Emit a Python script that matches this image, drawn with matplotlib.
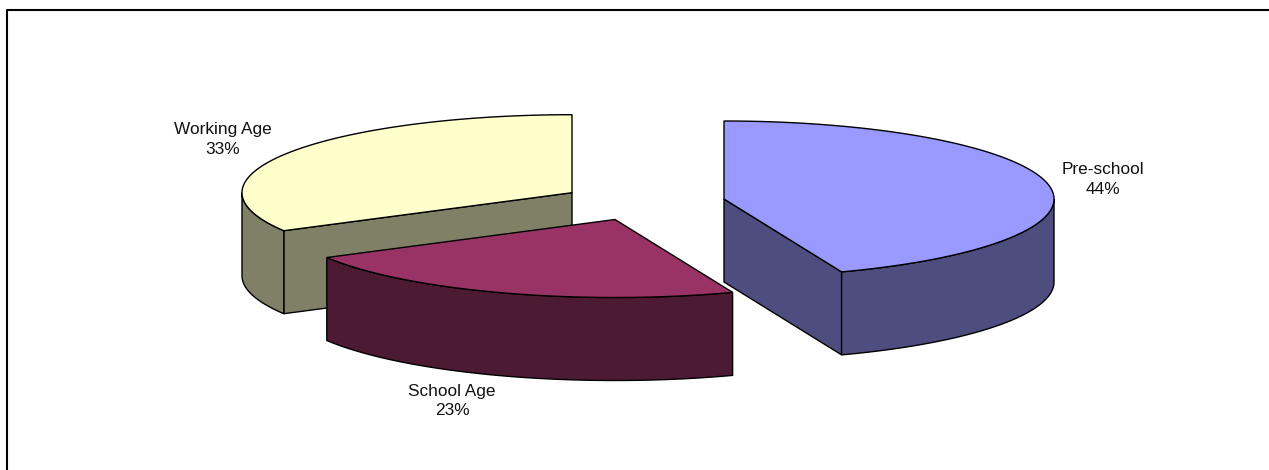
import numpy as np
import matplotlib
matplotlib.use("Agg")
import matplotlib.pyplot as plt
from matplotlib.patches import Polygon

labels = ["Pre-school", "School Age", "Working Age"]
shares = [44.2, 22.7, 33.1]

# apex of each exploded slice, in pixels
apex_x = [724, 615, 572]
apex_y = [199, 219.5, 192.7]
top_colors = ["#9999FF", "#993366", "#FFFFCC"]
side_colors = ["#4D4D80", "#4D1A33", "#808066"]
label_x = [1103, 452, 223]
label_y = [179.5, 401, 139.5]

RX = 330
RY = 78
DEPTH = 83


def slice_arc(cx, cy, t0, t1):
    """Points on the ellipse rim, angles clockwise from 12 o'clock in degrees."""
    t = np.radians(np.linspace(t0, t1, 200))
    return cx + RX*np.sin(t), cy - RY*np.cos(t)


def draw_slice(ax, cx, cy, t0, t1, top, side, z):
    xs, ys = slice_arc(cx, cy, t0, t1)

    # cut faces, only the ones turned to the viewer
    visible = []
    if t0 > 180:
        visible.append(t0)
    if t1 < 180:
        visible.append(t1)
    for t in visible:
        ex, ey = slice_arc(cx, cy, t, t)
        face = [(cx, cy), (ex[0], ey[0]), (ex[0], ey[0]+DEPTH), (cx, cy+DEPTH)]
        ax.add_patch(Polygon(face, fc=side, ec="black", lw=1, zorder=z))

    # outer wall, only the part of the rim that faces the viewer
    lo, hi = max(t0, 90), min(t1, 270)
    if lo < hi:
        wx, wy = slice_arc(cx, cy, lo, hi)
        wall = np.column_stack([np.r_[wx, wx[::-1]], np.r_[wy, wy[::-1]+DEPTH]])
        ax.add_patch(Polygon(wall, fc=side, ec="black", lw=1, zorder=z))

    outline = np.column_stack([np.r_[cx, xs], np.r_[cy, ys]])
    ax.add_patch(Polygon(outline, fc=top, ec="black", lw=1, zorder=z+0.5))


fig = plt.figure(figsize=(12.69, 4.70), dpi=100)
ax = fig.add_axes([0, 0, 1, 1])
ax.set_xlim(0, 1269)
ax.set_ylim(470, 0)
ax.axis("off")

# frame, the picture is cropped through the right and bottom of it
ax.plot([7, 7, 1280], [480, 10, 10], color="black", lw=1.5, zorder=0)

start = 0
angles = []
for s in shares:
    angles.append((start, start + s*3.6))
    start += s*3.6

# back slices first so the school age one sits in front
for i, z in [(2, 1), (0, 2), (1, 3)]:
    draw_slice(ax, apex_x[i], apex_y[i], angles[i][0], angles[i][1],
               top_colors[i], side_colors[i], z)

for i in range(3):
    ax.text(label_x[i], label_y[i], f"{labels[i]}\n{shares[i]:.0f}%", ha="center", va="center",
            fontsize=12.4, family="Liberation Sans", linespacing=1.37, color="#111111", zorder=5)

fig.savefig("out.png", dpi=100)
